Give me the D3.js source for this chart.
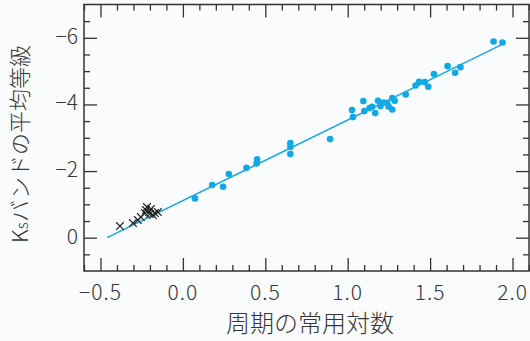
<!DOCTYPE html>
<html><head><meta charset="utf-8">
<script src="https://cdn.jsdelivr.net/npm/d3@7"></script>
<style>
html,body{margin:0;padding:0;background:#f9fbfd;}
svg{display:block;}
text{font-family:"Noto Sans CJK JP","Noto Sans",sans-serif;fill:#363636;font-weight:300;}
</style></head>
<body>
<svg id="c" width="530" height="341"></svg>
<script>
// Data: log period vs mean Ks magnitude
const cepheidLogP = [0.073,0.178,0.244,0.279,0.386,0.450,0.447,0.652,0.652,0.652,0.893,
  1.026,1.032,1.095,1.101,1.133,1.148,1.167,1.184,1.199,1.218,1.239,1.248,1.271,1.285,1.270,
  1.352,1.412,1.433,1.467,1.489,1.523,1.606,1.652,1.684,1.885,1.939];
const cepheidMag = [-1.18,-1.58,-1.53,-1.91,-2.10,-2.35,-2.23,-2.84,-2.72,-2.51,-2.96,
  -3.83,-3.62,-4.10,-3.80,-3.89,-3.93,-3.74,-4.11,-3.95,-4.06,-4.04,-3.94,-4.19,-4.11,-3.85,
  -4.30,-4.57,-4.68,-4.67,-4.53,-4.91,-5.15,-4.95,-5.12,-5.89,-5.86];
const crossLogP = [-0.382,-0.303,-0.273,-0.255,-0.230,-0.218,-0.206,-0.194,-0.182,-0.170,-0.152,-0.224,-0.200];
const crossMag  = [-0.35,-0.44,-0.53,-0.62,-0.74,-0.92,-0.77,-0.86,-0.68,-0.74,-0.77,-0.83,-0.71];
const fitLogP = [-0.46, 1.95];
const fitMag  = [0.00, -5.83];
const xTicks = [-0.5, 0.0, 0.5, 1.0, 1.5, 2.0];
const xTickLabels = ["−0.5","0.0","0.5","1.0","1.5","2.0"];
const yTicks = [-6, -4, -2, 0];
const yTickLabels = ["−6","−4","−2","0"];
const xLabel = "周期の常用対数";
const yLabelMain = "K";
const yLabelSub = "s";
const yLabelRest = "バンドの平均等級";

(function(){
const svg = d3.select("#c");
const L = 84, R = 529, T = 4.5, B = 271;
const x = d3.scaleLinear().domain([-0.6, 2.1]).range([L, R]);
const y = d3.scaleLinear().domain([1, -7]).range([B, T]);
const blue = "#12a8e6", ink = "#333";

// fit line
svg.append("line")
  .attr("x1", x(fitLogP[0])).attr("y1", y(fitMag[0]))
  .attr("x2", x(fitLogP[1])).attr("y2", y(fitMag[1]))
  .attr("stroke", blue).attr("stroke-width", 1.4);

// cepheid points
svg.append("g").selectAll("circle").data(cepheidLogP).join("circle")
  .attr("cx", d => x(d)).attr("cy", (d,i) => y(cepheidMag[i]))
  .attr("r", 3.3).attr("fill", blue);

// crosses
const cs = 3.8;
svg.append("g").selectAll("path").data(crossLogP).join("path")
  .attr("d", (d,i) => {
    const cx = x(d), cy = y(crossMag[i]);
    return `M${cx-cs},${cy-cs}L${cx+cs},${cy+cs}M${cx-cs},${cy+cs}L${cx+cs},${cy-cs}`;
  })
  .attr("stroke", "#222").attr("stroke-width", 1.2).attr("fill", "none");

// axes (ticks inward on all four sides)
const xMinor = d3.range(-6, 22).map(v => v / 10).filter(v => xTicks.every(t => Math.abs(t - v) > 1e-6));
const yMinor = d3.range(-14, 3).map(v => v / 2).filter(v => yTicks.every(t => Math.abs(t - v) > 1e-6) && v > -7 && v < 1);

const axB = d3.axisBottom(x).tickValues(xTicks).tickSizeInner(-13).tickSizeOuter(0).tickFormat("");
const axBm = d3.axisBottom(x).tickValues(xMinor).tickSizeInner(-6).tickSizeOuter(0).tickFormat("");
const axT = d3.axisTop(x).tickValues(xTicks).tickSizeInner(-13).tickSizeOuter(0).tickFormat("");
const axTm = d3.axisTop(x).tickValues(xMinor).tickSizeInner(-6).tickSizeOuter(0).tickFormat("");
const axL = d3.axisLeft(y).tickValues(yTicks).tickSizeInner(-13).tickSizeOuter(0).tickFormat("");
const axLm = d3.axisLeft(y).tickValues(yMinor).tickSizeInner(-6).tickSizeOuter(0).tickFormat("");
const axR = d3.axisRight(y).tickValues(yTicks).tickSizeInner(-13).tickSizeOuter(0).tickFormat("");
const axRm = d3.axisRight(y).tickValues(yMinor).tickSizeInner(-6).tickSizeOuter(0).tickFormat("");

function addAxis(ax, tr) {
  const g = svg.append("g").attr("transform", tr).call(ax);
  g.select(".domain").remove();
  g.selectAll("line").attr("stroke", ink).attr("stroke-width", 1.3);
}
addAxis(axB, `translate(0,${B})`); addAxis(axBm, `translate(0,${B})`);
addAxis(axT, `translate(0,${T})`); addAxis(axTm, `translate(0,${T})`);
addAxis(axL, `translate(${L},0)`); addAxis(axLm, `translate(${L},0)`);
addAxis(axR, `translate(${R},0)`); addAxis(axRm, `translate(${R},0)`);

// frame
svg.append("rect").attr("x", L).attr("y", T).attr("width", R - L).attr("height", B - T)
  .attr("fill", "none").attr("stroke", ink).attr("stroke-width", 1.5);

// tick labels
svg.append("g").selectAll("text").data(xTicks).join("text")
  .attr("x", d => x(d)).attr("y", 300)
  .attr("text-anchor", "middle").attr("font-size", 21).attr("letter-spacing", 1)
  .text((d,i) => xTickLabels[i]);
svg.append("g").selectAll("text").data(yTicks).join("text")
  .attr("x", 78).attr("y", d => y(d) + 6)
  .attr("text-anchor", "end").attr("font-size", 21)
  .text((d,i) => yTickLabels[i]);

// axis titles
svg.append("text").attr("x", 310).attr("y", 332)
  .attr("text-anchor", "middle").attr("font-size", 24).text(xLabel);

const yt = svg.append("text").attr("transform", "translate(28,144) rotate(-90)")
  .attr("text-anchor", "middle").attr("font-size", 22);
yt.append("tspan").text(yLabelMain);
yt.append("tspan").attr("font-size", 16).text(yLabelSub);
yt.append("tspan").text(yLabelRest);
})();
</script>
</body></html>
